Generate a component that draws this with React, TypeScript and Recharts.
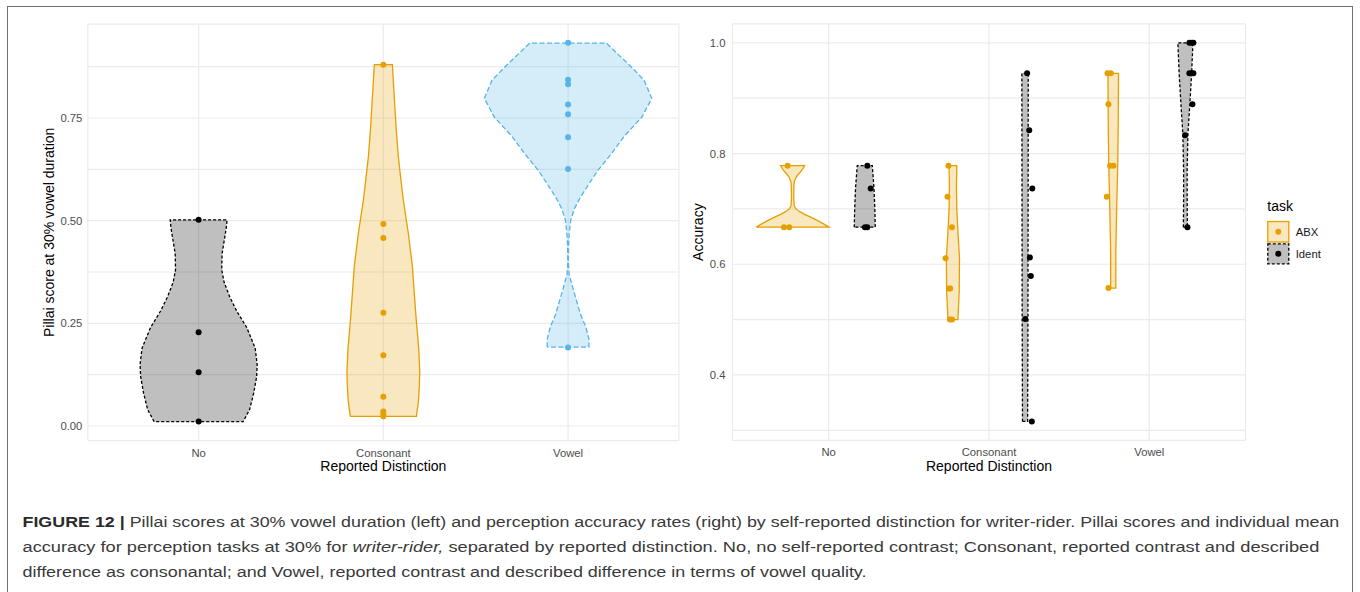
import { ComposedChart, Area, Scatter, XAxis, YAxis, CartesianGrid } from 'recharts'

const FONT = '"Liberation Sans", Arial, Helvetica, sans-serif'
const ORANGE = '#E69F00'
const BLUE = '#56B4E9'

const categories = ['No', 'Consonant', 'Vowel']

// ---- left panel: Pillai score at 30% vowel duration ----
const pillaiNo = [0.502, 0.228, 0.131, 0.011]
const pillaiConsonant = [0.88, 0.492, 0.458, 0.276, 0.172, 0.071, 0.035, 0.029, 0.024]
const pillaiVowel = [0.933, 0.843, 0.832, 0.783, 0.759, 0.703, 0.626, 0.191]

// violin outlines: [value, half width in category units]
const pillaiNoViolin = [
  [0.0105, 0.241], [0.04, 0.276], [0.08, 0.298], [0.12, 0.314], [0.15, 0.317], [0.19, 0.306],
  [0.24, 0.26], [0.28, 0.206], [0.315, 0.168], [0.35, 0.138], [0.38, 0.125], [0.42, 0.127],
  [0.45, 0.138], [0.48, 0.149], [0.502, 0.154],
]
const pillaiConsonantViolin = [
  [0.0236, 0.179], [0.06, 0.19], [0.1, 0.195], [0.13, 0.197], [0.185, 0.192], [0.27, 0.176],
  [0.39, 0.157], [0.47, 0.135], [0.55, 0.108], [0.6, 0.095], [0.656, 0.081], [0.72, 0.07],
  [0.78, 0.062], [0.84, 0.054], [0.88, 0.049],
]
const pillaiVowelViolin = [
  [0.192, 0.1126], [0.21, 0.1137], [0.242, 0.0958], [0.27, 0.0688], [0.298, 0.0504], [0.34, 0.0233],
  [0.37, 0.0054], [0.4, 0.0016], [0.44, 0.0027], [0.47, 0.0065], [0.502, 0.0146], [0.53, 0.0352],
  [0.558, 0.0677], [0.59, 0.1137], [0.623, 0.1624], [0.665, 0.2382], [0.705, 0.3032], [0.753, 0.4006],
  [0.798, 0.4532], [0.842, 0.4115], [0.875, 0.3411], [0.905, 0.2707], [0.9326, 0.2074],
]

const pillaiTicks = [0, 0.25, 0.5, 0.75]
const pillaiMinorTicks = [0.125, 0.375, 0.625, 0.875]

// ---- right panel: accuracy by task ----
const accNoAbx = [0.778, 0.667, 0.667]
const jitNoAbx = [-0.256, -0.279, -0.246]
const accNoIdent = [0.778, 0.737, 0.667, 0.667]
const jitNoIdent = [0.241, 0.262, 0.226, 0.241]
const accConsAbx = [0.778, 0.722, 0.667, 0.611, 0.556, 0.556, 0.5, 0.5]
const jitConsAbx = [-0.253, -0.259, -0.231, -0.271, -0.25, -0.242, -0.244, -0.231]
const accConsIdent = [0.945, 0.842, 0.737, 0.612, 0.579, 0.501, 0.316]
const jitConsIdent = [0.238, 0.251, 0.27, 0.255, 0.261, 0.226, 0.267]
const accVowAbx = [0.945, 0.945, 0.889, 0.778, 0.778, 0.722, 0.557]
const jitVowAbx = [-0.261, -0.24, -0.255, -0.245, -0.224, -0.265, -0.255]
const accVowIdent = [1, 1, 1, 0.945, 0.945, 0.945, 0.889, 0.833, 0.667]
const jitVowIdent = [0.25, 0.265, 0.275, 0.25, 0.265, 0.275, 0.269, 0.223, 0.238]

const accNoAbxViolin = [
  [0.667, 0.227], [0.672, 0.198], [0.677, 0.168], [0.682, 0.135], [0.686, 0.106], [0.69, 0.075],
  [0.695, 0.044], [0.7, 0.022], [0.705, 0.01], [0.72, 0.007], [0.74, 0.008], [0.749, 0.01],
  [0.758, 0.023], [0.764, 0.04], [0.77, 0.058], [0.778, 0.075],
]
const accNoIdentViolin = [[0.667, 0.0655], [0.7, 0.063], [0.74, 0.057], [0.778, 0.047]]
const accConsAbxViolin = [
  [0.5, 0.031], [0.55, 0.039], [0.61, 0.041], [0.66, 0.031], [0.7, 0.024], [0.74, 0.022], [0.778, 0.024],
]
const accConsIdentViolin = [[0.316, 0.016], [0.5, 0.018], [0.7, 0.019], [0.945, 0.02]]
const accVowAbxViolin = [
  [0.557, 0.016], [0.62, 0.016], [0.68, 0.02], [0.72, 0.023], [0.78, 0.028], [0.85, 0.031], [0.89, 0.032], [0.945, 0.033],
]
const accVowIdentViolin = [
  [0.667, 0.0125], [0.72, 0.011], [0.77, 0.011], [0.836, 0.016], [0.89, 0.028], [0.945, 0.039], [1.0, 0.047],
]

const accTicks = [0.4, 0.6, 0.8, 1.0]
const accMinorTicks = [0.3, 0.5, 0.7, 0.9]

type Violin = {
  key: string
  center: number
  shape: number[][]
  stroke: string
  fill: string
  dash?: string
}

const leftViolins: Violin[] = [
  { key: 'no', center: 1, shape: pillaiNoViolin, stroke: '#000', fill: '#000', dash: '3 2' },
  { key: 'cons', center: 2, shape: pillaiConsonantViolin, stroke: ORANGE, fill: ORANGE },
  { key: 'vow', center: 3, shape: pillaiVowelViolin, stroke: BLUE, fill: BLUE, dash: '5 2.5' },
]

const rightViolins: Violin[] = [
  { key: 'noAbx', center: 0.775, shape: accNoAbxViolin, stroke: ORANGE, fill: ORANGE },
  { key: 'noIdent', center: 1.225, shape: accNoIdentViolin, stroke: '#000', fill: '#000', dash: '3 2' },
  { key: 'consAbx', center: 1.775, shape: accConsAbxViolin, stroke: ORANGE, fill: ORANGE },
  { key: 'consIdent', center: 2.225, shape: accConsIdentViolin, stroke: '#000', fill: '#000', dash: '3 2' },
  { key: 'vowAbx', center: 2.775, shape: accVowAbxViolin, stroke: ORANGE, fill: ORANGE },
  { key: 'vowIdent', center: 3.225, shape: accVowIdentViolin, stroke: '#000', fill: '#000', dash: '3 2' },
]

// each violin gets its own contiguous block of rows: { y, [key]: [left, right] }
const violinRows = (violins: Violin[]) =>
  violins.flatMap((v) => v.shape.map(([y, hw]) => ({ y, [v.key]: [v.center - hw, v.center + hw] })))

const violinOutline = (v: Violin) => {
  const left = v.shape.map(([y, hw]) => ({ y, x: v.center - hw }))
  const right = [...v.shape].reverse().map(([y, hw]) => ({ y, x: v.center + hw }))
  return [...left, ...right, left[0]]
}

const leftPoints = [
  { color: '#000', data: pillaiNo.map((y) => ({ x: 1, y })) },
  { color: ORANGE, data: pillaiConsonant.map((y) => ({ x: 2, y })) },
  { color: BLUE, data: pillaiVowel.map((y) => ({ x: 3, y })) },
]

const jittered = (acc: number[], jit: number[], cat: number) => acc.map((y, i) => ({ x: cat + jit[i], y }))

const rightPoints = [
  { color: ORANGE, data: jittered(accNoAbx, jitNoAbx, 1) },
  { color: '#000', data: jittered(accNoIdent, jitNoIdent, 1) },
  { color: ORANGE, data: jittered(accConsAbx, jitConsAbx, 2) },
  { color: '#000', data: jittered(accConsIdent, jitConsIdent, 2) },
  { color: ORANGE, data: jittered(accVowAbx, jitVowAbx, 3) },
  { color: '#000', data: jittered(accVowIdent, jitVowIdent, 3) },
]

const dot = (color: string) => (p: any) => <circle cx={p.cx} cy={p.cy} r={3} fill={color} />
const noShape = () => <g />

const tickStyle = { fontSize: 11.3, fill: '#4d4d4d', fontFamily: FONT }

function renderViolins(violins: Violin[]) {
  return violins.flatMap((v) => [
    <Area
      key={v.key + '-fill'}
      dataKey={v.key}
      type="linear"
      stroke="none"
      fill={v.fill}
      fillOpacity={0.25}
      dot={false}
      activeDot={false}
      isAnimationActive={false}
      legendType="none"
    />,
    <Scatter
      key={v.key + '-line'}
      data={violinOutline(v)}
      dataKey="x"
      line={{ stroke: v.stroke, strokeWidth: 1.3, strokeDasharray: v.dash }}
      lineType="joint"
      shape={noShape}
      isAnimationActive={false}
      legendType="none"
    />,
  ])
}

function renderPoints(groups: { color: string; data: { x: number; y: number }[] }[]) {
  return groups.map((g, i) => (
    <Scatter
      key={'pts' + i}
      data={g.data}
      dataKey="x"
      fill={g.color}
      shape={dot(g.color)}
      isAnimationActive={false}
      legendType="none"
    />
  ))
}

function PillaiChart() {
  const majors = new Set(pillaiTicks)
  return (
    <ComposedChart
      layout="vertical"
      width={690}
      height={480}
      data={violinRows(leftViolins)}
      margin={{ top: 24.1, right: 11.1, bottom: 6.4, left: 0 }}
    >
      <CartesianGrid stroke="#ebebeb" strokeWidth={1.2} />
      <XAxis
        type="number"
        domain={[0.4, 3.6]}
        ticks={[1, 2, 3]}
        interval={0}
        allowDataOverflow
        tickFormatter={(v: number) => categories[v - 1]}
        axisLine={false}
        tickLine={false}
        tickSize={0}
        tickMargin={8}
        height={33}
        tick={tickStyle}
        label={{ value: 'Reported Distinction', position: 'insideBottom', offset: 2.5, fontSize: 14, fill: '#000', fontFamily: FONT }}
      />
      <YAxis
        type="number"
        dataKey="y"
        reversed
        domain={[-0.0356, 0.9787]}
        ticks={[...pillaiTicks, ...pillaiMinorTicks].sort((a, b) => a - b)}
        interval={0}
        allowDataOverflow
        tickFormatter={(v: number) => (majors.has(v) ? v.toFixed(2) : '')}
        axisLine={false}
        tickLine={false}
        tickSize={0}
        tickMargin={5.4}
        width={87.8}
        tick={tickStyle}
        label={{
          value: 'Pillai score at 30% vowel duration',
          angle: -90,
          position: 'insideLeft',
          offset: 48.6,
          style: { textAnchor: 'middle' },
          fontSize: 14,
          fill: '#000',
          fontFamily: FONT,
        }}
      />
      {renderViolins(leftViolins)}
      {renderPoints(leftPoints)}
    </ComposedChart>
  )
}

function AccuracyChart() {
  const majors = new Set(accTicks)
  return (
    <ComposedChart
      layout="vertical"
      width={570}
      height={480}
      data={violinRows(rightViolins)}
      margin={{ top: 23.9, right: 14.5, bottom: 6.6, left: 0 }}
    >
      <CartesianGrid stroke="#ebebeb" strokeWidth={1.2} />
      <XAxis
        type="number"
        domain={[0.4, 3.6]}
        ticks={[1, 2, 3]}
        interval={0}
        allowDataOverflow
        tickFormatter={(v: number) => categories[v - 1]}
        axisLine={false}
        tickLine={false}
        tickSize={0}
        tickMargin={8}
        height={33}
        tick={tickStyle}
        label={{ value: 'Reported Distinction', position: 'insideBottom', offset: 2.5, fontSize: 14, fill: '#000', fontFamily: FONT }}
      />
      <YAxis
        type="number"
        dataKey="y"
        reversed
        domain={[0.2818, 1.0342]}
        ticks={[...accTicks, ...accMinorTicks].sort((a, b) => a - b)}
        interval={0}
        allowDataOverflow
        tickFormatter={(v: number) => (majors.has(v) ? v.toFixed(1) : '')}
        axisLine={false}
        tickLine={false}
        tickSize={0}
        tickMargin={7}
        width={42.5}
        tick={tickStyle}
        label={{
          value: 'Accuracy',
          angle: -90,
          position: 'insideLeft',
          offset: 8.4,
          style: { textAnchor: 'middle' },
          fontSize: 14,
          fill: '#000',
          fontFamily: FONT,
        }}
      />
      {renderViolins(rightViolins)}
      {renderPoints(rightPoints)}
    </ComposedChart>
  )
}

function Overlay() {
  return (
    <svg width={1360} height={592} style={{ position: 'absolute', left: 0, top: 0, pointerEvents: 'none' }}>
      {/* legend */}
      <g fontFamily={FONT}>
        <text x={1267.3} y={211} fontSize={14} fill="#000">task</text>
        <rect x={1267.8} y={221.5} width={21} height={20.5} fill={ORANGE} fillOpacity={0.25} stroke={ORANGE} strokeWidth={1.3} />
        <circle cx={1278.3} cy={231.7} r={3} fill={ORANGE} />
        <rect x={1267.8} y={243.8} width={21} height={20} fill="#000" fillOpacity={0.25} stroke="#000" strokeWidth={1.3} strokeDasharray="3 2" />
        <circle cx={1278.3} cy={253.8} r={3} fill="#000" />
        <text x={1295.7} y={236} fontSize={11.3} fill="#1a1a1a">ABX</text>
        <text x={1295.7} y={258} fontSize={11.3} fill="#1a1a1a">Ident</text>
      </g>
      {/* caption */}
      <g fontFamily={FONT} fontSize={15.5} fill="#3a3a3a">
        <text x={22.5} y={526.5} textLength={1316.8} lengthAdjust="spacingAndGlyphs">
          <tspan fontWeight="bold" fill="#2a2a2a">FIGURE 12 | </tspan>
          <tspan>Pillai scores at 30% vowel duration (left) and perception accuracy rates (right) by self-reported distinction for writer-rider. Pillai scores and individual mean</tspan>
        </text>
        <text x={22.5} y={551.8} textLength={1296.8} lengthAdjust="spacingAndGlyphs">
          <tspan>accuracy for perception tasks at 30% for </tspan>
          <tspan fontStyle="italic">writer-rider,</tspan>
          <tspan> separated by reported distinction. No, no self-reported contrast; Consonant, reported contrast and described</tspan>
        </text>
        <text x={22.5} y={577} textLength={844} lengthAdjust="spacingAndGlyphs">
          difference as consonantal; and Vowel, reported contrast and described difference in terms of vowel quality.
        </text>
      </g>
    </svg>
  )
}

export default function App() {
  return (
    <div style={{ position: 'absolute', left: 0, top: 0, width: 1360, height: 592, background: '#fff', fontFamily: FONT, overflow: 'hidden' }}>
      <div
        style={{
          position: 'absolute',
          left: 7,
          top: 6,
          width: 1346,
          height: 600,
          border: '1.5px solid #707070',
          boxSizing: 'border-box',
        }}
      />
      <div style={{ position: 'absolute', left: 0, top: 0 }}>
        <PillaiChart />
      </div>
      <div style={{ position: 'absolute', left: 690, top: 0 }}>
        <AccuracyChart />
      </div>
      <Overlay />
    </div>
  )
}
